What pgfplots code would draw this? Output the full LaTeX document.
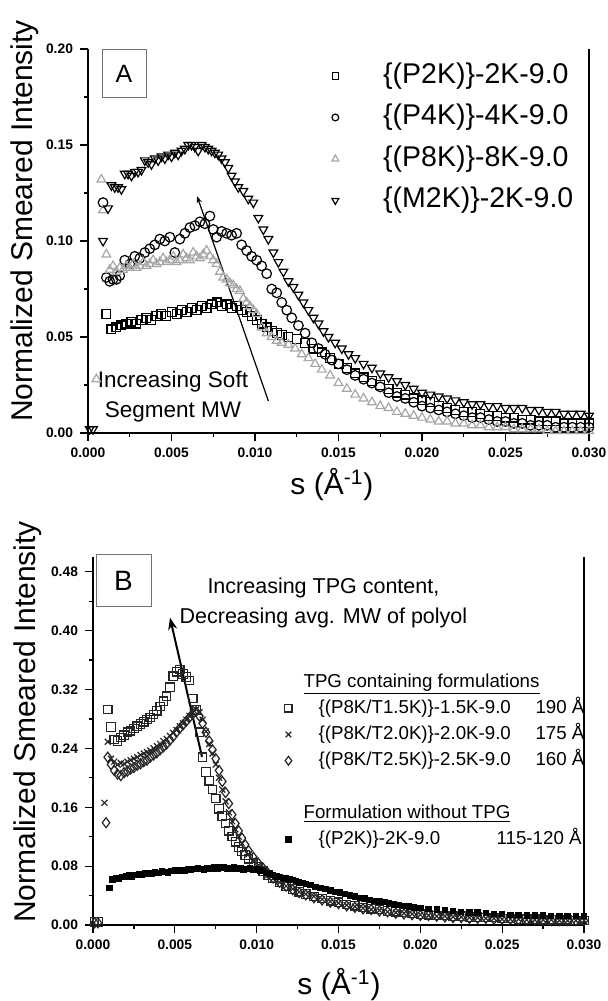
\documentclass[border=0pt]{standalone}
\usepackage{fontspec}
\setmainfont{Liberation Sans}
\usepackage{pgfplots}
\pgfplotsset{compat=1.18}
\usetikzlibrary{arrows.meta}

\pgfplotsset{
  legmark/.style={legend image code/.code={\draw[##1,mark size=#1] plot coordinates {(0pt,0pt)};}},
  panel/.style={
    scale only axis, clip=false, enlargelimits=false,
    axis x line=bottom, axis y line=box,
    every non boxed x axis/.style={},
    axis line style={-, line width=0.75pt},
    x axis line style={-}, y axis line style={-},
    xmin=0, xmax=0.03,
    xtick={0,0.005,0.01,0.015,0.02,0.025,0.03},
    minor x tick num=1, minor y tick num=1,
    ytick pos=left, xtick pos=bottom,
    tick align=outside,
    major tick length=4pt, minor tick length=2pt,
    tick style={black, line width=0.6pt},
    scaled ticks=false,
    tick label style={font=\fontsize{6.9}{7}\selectfont\bfseries},
    /pgf/number format/assume math mode=true,
    xticklabel style={/pgf/number format/.cd, fixed, fixed zerofill, precision=3},
    yticklabel style={/pgf/number format/.cd, fixed, fixed zerofill, precision=2},
    xlabel={s (Å\textsuperscript{-1})},
    ylabel={Normalized Smeared Intensity},
    legend cell align=left,
  },
  mk/.style={only marks, line width=0.6pt},
}

\begin{document}
\begin{tikzpicture}
\useasboundingbox (0,0) rectangle (304pt,-500.5pt);

% ---------- panel A ----------
\begin{axis}[panel,
  at={(44pt,-216.5pt)}, anchor=south west,
  width=250.5pt, height=192pt,
  ymin=0, ymax=0.2, ytick={0,0.05,0.1,0.15,0.2},
  every axis y label/.style={at={(axis description cs:-0.1257,0.552)}, rotate=90, anchor=center, font=\fontsize{15}{15}\selectfont},
  every axis x label/.style={at={(axis description cs:0.487,-0.135)}, anchor=center, font=\fontsize{15}{15}\selectfont},
  legend style={at={(0.486,0.966)}, anchor=north west, draw=none, fill=none,
    inner sep=0pt, row sep=7.25pt, column sep=22.2pt,
    font=\fontsize{14.25}{14.25}\selectfont,
    nodes={inner sep=0pt, text height=10.5pt, text depth=3pt}},
]
\addplot[mk, black, mark=square, mark size=2.2pt, legmark=1.6pt] coordinates {
(0.0011,0.062) (0.0014,0.054) (0.0017,0.055) (0.0020,0.056) (0.0023,0.057) (0.0026,0.058)
(0.0029,0.057) (0.0032,0.059) (0.0035,0.060) (0.0038,0.059) (0.0041,0.061) (0.0044,0.062)
(0.0047,0.061) (0.0050,0.063) (0.0053,0.062) (0.0056,0.064) (0.0059,0.063) (0.0062,0.065)
(0.0065,0.064) (0.0068,0.066) (0.0071,0.065) (0.0074,0.067) (0.0077,0.068) (0.0080,0.066)
(0.0083,0.067) (0.0086,0.065) (0.0089,0.066) (0.0092,0.064) (0.0095,0.063) (0.0098,0.061)
(0.0101,0.059) (0.0104,0.057) (0.0107,0.055) (0.0110,0.053) (0.0113,0.052) (0.0116,0.051)
(0.0120,0.050) (0.0125,0.049) (0.0130,0.047) (0.0135,0.044) (0.0140,0.042) (0.0145,0.039)
(0.0150,0.036) (0.0155,0.034) (0.0160,0.031) (0.0165,0.029) (0.0170,0.027) (0.0175,0.025)
(0.0180,0.023) (0.0185,0.021) (0.0190,0.020) (0.0195,0.018) (0.0200,0.017) (0.0205,0.016)
(0.0210,0.014) (0.0215,0.013) (0.0220,0.012) (0.0225,0.011) (0.0230,0.011) (0.0235,0.010)
(0.0240,0.009) (0.0245,0.009) (0.0250,0.008) (0.0255,0.008) (0.0260,0.007) (0.0265,0.007)
(0.0270,0.006) (0.0275,0.006) (0.0280,0.006) (0.0285,0.005) (0.0290,0.005) (0.0295,0.005)
(0.0300,0.005)};
\addlegendentry{\{(P2K)\}-2K-9.0}
\addplot[mk, black, mark=o, mark size=2.4pt, legmark=1.7pt] coordinates {
(0.0009,0.120) (0.0011,0.081) (0.0013,0.079) (0.0015,0.080) (0.0017,0.080) (0.0019,0.082)
(0.0022,0.090) (0.0025,0.088) (0.0028,0.092) (0.0031,0.091) (0.0034,0.094) (0.0037,0.096)
(0.0040,0.098) (0.0043,0.101) (0.0046,0.100) (0.0049,0.102) (0.0052,0.094) (0.0055,0.101)
(0.0058,0.104) (0.0061,0.107) (0.0064,0.108) (0.0067,0.110) (0.0070,0.109) (0.0073,0.113)
(0.0075,0.106) (0.0077,0.102) (0.0080,0.105) (0.0083,0.104) (0.0086,0.103) (0.0089,0.104)
(0.0092,0.098) (0.0095,0.095) (0.0098,0.092) (0.0101,0.090) (0.0104,0.087) (0.0107,0.083)
(0.0110,0.075) (0.0113,0.073) (0.0116,0.068) (0.0119,0.064) (0.0122,0.060) (0.0126,0.056)
(0.0130,0.052) (0.0134,0.047) (0.0138,0.044) (0.0142,0.041) (0.0146,0.038) (0.0150,0.036)
(0.0155,0.033) (0.0160,0.030) (0.0165,0.028) (0.0170,0.026) (0.0175,0.024) (0.0180,0.021)
(0.0185,0.019) (0.0190,0.018) (0.0195,0.016) (0.0200,0.014) (0.0205,0.013) (0.0210,0.012)
(0.0215,0.011) (0.0220,0.010) (0.0225,0.009) (0.0230,0.008) (0.0235,0.008) (0.0240,0.007)
(0.0245,0.006) (0.0250,0.006) (0.0255,0.005) (0.0260,0.005) (0.0265,0.004) (0.0270,0.004)
(0.0275,0.004) (0.0280,0.003) (0.0285,0.003) (0.0290,0.003) (0.0295,0.003) (0.0300,0.003)};
\addlegendentry{\{(P4K)\}-4K-9.0}
\addplot[mk, black!35, mark=triangle, mark size=2.5pt, legmark=2pt] coordinates {
(0.0005,0.028) (0.0008,0.132) (0.0009,0.116) (0.0011,0.093) (0.0013,0.085) (0.0015,0.087)
(0.0017,0.084) (0.0019,0.086) (0.0021,0.085) (0.0023,0.087) (0.0025,0.086) (0.0027,0.088)
(0.0029,0.086) (0.0031,0.087) (0.0033,0.089) (0.0035,0.087) (0.0037,0.088) (0.0039,0.090)
(0.0041,0.088) (0.0043,0.089) (0.0045,0.091) (0.0047,0.089) (0.0049,0.090) (0.0051,0.092)
(0.0053,0.089) (0.0055,0.090) (0.0057,0.093) (0.0059,0.091) (0.0061,0.090) (0.0063,0.094)
(0.0065,0.092) (0.0067,0.091) (0.0069,0.093) (0.0071,0.095) (0.0073,0.092) (0.0075,0.090)
(0.0077,0.088) (0.0079,0.084) (0.0081,0.081) (0.0083,0.080) (0.0085,0.078) (0.0087,0.077)
(0.0089,0.075) (0.0091,0.074) (0.0093,0.070) (0.0095,0.068) (0.0097,0.066) (0.0099,0.064)
(0.0101,0.062) (0.0104,0.055) (0.0107,0.052) (0.0110,0.050) (0.0113,0.048) (0.0116,0.047)
(0.0120,0.046) (0.0124,0.044) (0.0128,0.041) (0.0132,0.039) (0.0136,0.036) (0.0140,0.033)
(0.0145,0.030) (0.0150,0.026) (0.0155,0.023) (0.0160,0.020) (0.0165,0.018) (0.0170,0.016)
(0.0175,0.014) (0.0180,0.013) (0.0185,0.011) (0.0190,0.010) (0.0195,0.009) (0.0200,0.008)
(0.0205,0.007) (0.0210,0.006) (0.0215,0.006) (0.0220,0.005) (0.0225,0.005) (0.0230,0.004)
(0.0235,0.004) (0.0240,0.003) (0.0245,0.003) (0.0250,0.003) (0.0255,0.002) (0.0260,0.002)
(0.0265,0.002) (0.0270,0.002) (0.0275,0.001) (0.0280,0.001) (0.0285,0.001) (0.0290,0.001)
(0.0295,0.001) (0.0300,0.001)};
\addlegendentry{\{(P8K)\}-8K-9.0}
\addplot[mk, black, mark=triangle, mark options={rotate=180}, mark size=2.5pt, legmark=2pt] coordinates {
(0.0001,0.002) (0.0003,0.002) (0.0009,0.100) (0.0012,0.117) (0.0014,0.129) (0.0016,0.128)
(0.0018,0.128) (0.0020,0.127) (0.0022,0.135) (0.0024,0.135) (0.0026,0.134) (0.0028,0.136)
(0.0030,0.136) (0.0032,0.137) (0.0034,0.142) (0.0036,0.141) (0.0038,0.140) (0.0040,0.143)
(0.0042,0.142) (0.0044,0.144) (0.0046,0.143) (0.0048,0.145) (0.0050,0.144) (0.0052,0.146)
(0.0054,0.145) (0.0056,0.147) (0.0058,0.148) (0.0060,0.150) (0.0062,0.150) (0.0064,0.149)
(0.0066,0.147) (0.0068,0.150) (0.0070,0.149) (0.0072,0.148) (0.0074,0.147) (0.0076,0.146)
(0.0078,0.145) (0.0080,0.143) (0.0082,0.141) (0.0084,0.138) (0.0086,0.134) (0.0088,0.131)
(0.0090,0.128) (0.0093,0.126) (0.0096,0.122) (0.0099,0.120) (0.0102,0.112) (0.0105,0.106)
(0.0108,0.101) (0.0111,0.094) (0.0114,0.089) (0.0117,0.084) (0.0120,0.079) (0.0123,0.076)
(0.0126,0.072) (0.0129,0.068) (0.0132,0.064) (0.0135,0.060) (0.0138,0.057) (0.0141,0.053)
(0.0144,0.050) (0.0148,0.047) (0.0152,0.044) (0.0156,0.041) (0.0160,0.039) (0.0165,0.036)
(0.0170,0.034) (0.0175,0.031) (0.0180,0.029) (0.0185,0.027) (0.0190,0.025) (0.0195,0.023)
(0.0200,0.021) (0.0205,0.020) (0.0210,0.019) (0.0215,0.018) (0.0220,0.017) (0.0225,0.016)
(0.0230,0.015) (0.0235,0.015) (0.0240,0.014) (0.0245,0.014) (0.0250,0.013) (0.0255,0.013)
(0.0260,0.013) (0.0265,0.012) (0.0270,0.012) (0.0275,0.011) (0.0280,0.011) (0.0285,0.010)
(0.0290,0.010) (0.0295,0.010) (0.0300,0.009)};
\addlegendentry{\{(M2K)\}-2K-9.0}
\node[draw=black!55, line width=0.5pt, minimum width=22pt, minimum height=24pt, inner sep=0pt,
  font=\fontsize{12.5}{12.5}\selectfont] at (axis cs:0.00216,0.187) {A};
\node[align=center, font=\fontsize{11.25}{15}\selectfont] at (axis cs:0.00509,0.0188) {Increasing Soft\\Segment MW};
\draw[-{Stealth[length=3.5pt,width=2.6pt]}, line width=0.6pt] (axis cs:0.0108,0.0167) -- (axis cs:0.00653,0.1234);
\end{axis}

% ---------- panel B ----------
\begin{axis}[panel,
  at={(46.5pt,-462.5pt)}, anchor=south west,
  width=245.5pt, height=184pt,
  ymin=0, ymax=0.5, ytick={0,0.08,0.16,0.24,0.32,0.40,0.48},
  every axis y label/.style={at={(axis description cs:-0.132,0.552)}, rotate=90, anchor=center, font=\fontsize{15}{15}\selectfont},
  every axis x label/.style={at={(axis description cs:0.501,-0.163)}, anchor=center, font=\fontsize{15}{15}\selectfont},
  legend style={at={(0.390,0.6856)}, anchor=north west, draw=none, fill=none,
    inner sep=0pt, row sep=4.1pt, column sep=13.25pt,
    font=\fontsize{9.35}{9.35}\selectfont,
    nodes={inner sep=0pt, text height=7pt, text depth=2pt}},
]
\addlegendimage{empty legend}
\addlegendentry{\hspace*{-7.5pt}\underline{TPG containing formulations}}
\addplot[mk, black!85, mark=square, mark size=2.1pt, legmark=1.8pt] coordinates {
(0.0001,0.004) (0.0003,0.004) (0.0009,0.293) (0.0011,0.269) (0.0013,0.252) (0.0015,0.250)
(0.0017,0.255) (0.0019,0.258) (0.0021,0.262) (0.0023,0.264) (0.0025,0.267) (0.0027,0.270)
(0.0029,0.273) (0.0031,0.276) (0.0033,0.279) (0.0035,0.282) (0.0037,0.286) (0.0039,0.291)
(0.0041,0.297) (0.0043,0.304) (0.0045,0.311) (0.0047,0.323) (0.0049,0.338) (0.0051,0.344)
(0.0053,0.347) (0.0055,0.341) (0.0057,0.337) (0.0059,0.332) (0.0061,0.308) (0.0063,0.292)
(0.0065,0.262) (0.0067,0.228) (0.0069,0.208) (0.0071,0.196) (0.0073,0.184) (0.0075,0.172)
(0.0077,0.158) (0.0079,0.148) (0.0081,0.138) (0.0083,0.128) (0.0085,0.120) (0.0087,0.113)
(0.0089,0.106) (0.0091,0.100) (0.0093,0.095) (0.0095,0.090) (0.0098,0.084) (0.0101,0.079)
(0.0104,0.073) (0.0107,0.068) (0.0110,0.063) (0.0114,0.058) (0.0118,0.053) (0.0122,0.049)
(0.0126,0.045) (0.0130,0.042) (0.0135,0.039) (0.0140,0.036) (0.0145,0.033) (0.0150,0.031)
(0.0155,0.028) (0.0160,0.026) (0.0165,0.024) (0.0170,0.022) (0.0175,0.021) (0.0180,0.019)
(0.0185,0.018) (0.0190,0.017) (0.0195,0.016) (0.0200,0.015) (0.0205,0.014) (0.0210,0.013)
(0.0215,0.013) (0.0220,0.012) (0.0225,0.012) (0.0230,0.011) (0.0235,0.011) (0.0240,0.010)
(0.0245,0.010) (0.0250,0.009) (0.0255,0.009) (0.0260,0.008) (0.0265,0.008) (0.0270,0.008)
(0.0275,0.007) (0.0280,0.007) (0.0285,0.007) (0.0290,0.007) (0.0295,0.006) (0.0300,0.006)};
\addlegendentry{\makebox[108.5pt][l]{\{(P8K/T1.5K)\}-1.5K-9.0}190 Å}
\addplot[mk, black!85, mark=x, mark size=2.1pt, legmark=2pt] coordinates {
(0.0007,0.166) (0.0009,0.249) (0.0011,0.226) (0.0013,0.222) (0.0015,0.218) (0.0017,0.220)
(0.0019,0.219) (0.0021,0.222) (0.0023,0.224) (0.0025,0.226) (0.0027,0.228) (0.0029,0.231)
(0.0031,0.233) (0.0033,0.235) (0.0035,0.237) (0.0037,0.240) (0.0039,0.243) (0.0041,0.246)
(0.0043,0.250) (0.0045,0.253) (0.0047,0.257) (0.0049,0.261) (0.0051,0.265) (0.0053,0.270)
(0.0055,0.274) (0.0057,0.279) (0.0059,0.284) (0.0061,0.289) (0.0063,0.293) (0.0065,0.289)
(0.0067,0.279) (0.0069,0.263) (0.0071,0.246) (0.0073,0.233) (0.0075,0.218) (0.0077,0.200)
(0.0079,0.184) (0.0081,0.168) (0.0083,0.153) (0.0085,0.141) (0.0087,0.130) (0.0089,0.120)
(0.0091,0.111) (0.0093,0.103) (0.0095,0.096) (0.0098,0.088) (0.0101,0.081) (0.0104,0.074)
(0.0107,0.068) (0.0110,0.063) (0.0114,0.058) (0.0118,0.053) (0.0122,0.049) (0.0126,0.045)
(0.0130,0.042) (0.0135,0.039) (0.0140,0.035) (0.0145,0.032) (0.0150,0.030) (0.0155,0.027)
(0.0160,0.025) (0.0165,0.023) (0.0170,0.021) (0.0175,0.020) (0.0180,0.018) (0.0185,0.017)
(0.0190,0.016) (0.0195,0.015) (0.0200,0.014) (0.0205,0.013) (0.0210,0.012) (0.0215,0.012)
(0.0220,0.011) (0.0225,0.011) (0.0230,0.010) (0.0235,0.010) (0.0240,0.009) (0.0245,0.009)
(0.0250,0.008) (0.0255,0.008) (0.0260,0.008) (0.0265,0.007) (0.0270,0.007) (0.0275,0.007)
(0.0280,0.007) (0.0285,0.006) (0.0290,0.006) (0.0295,0.006) (0.0300,0.006)};
\addlegendentry{\makebox[108.5pt][l]{\{(P8K/T2.0K)\}-2.0K-9.0}175 Å}
\addplot[mk, black!85, mark=diamond, mark size=2.5pt, legmark=2.2pt] coordinates {
(0.0001,0.003) (0.0003,0.003) (0.0008,0.139) (0.0009,0.228) (0.0011,0.218) (0.0013,0.210)
(0.0015,0.205) (0.0017,0.203) (0.0019,0.207) (0.0021,0.209) (0.0023,0.212) (0.0025,0.214)
(0.0027,0.217) (0.0029,0.219) (0.0031,0.222) (0.0033,0.224) (0.0035,0.228) (0.0037,0.231)
(0.0039,0.234) (0.0041,0.238) (0.0043,0.242) (0.0045,0.246) (0.0047,0.251) (0.0049,0.256)
(0.0051,0.262) (0.0053,0.267) (0.0055,0.272) (0.0057,0.277) (0.0059,0.282) (0.0061,0.287)
(0.0063,0.290) (0.0065,0.284) (0.0067,0.274) (0.0069,0.262) (0.0071,0.250) (0.0073,0.238)
(0.0075,0.226) (0.0077,0.210) (0.0079,0.195) (0.0081,0.180) (0.0083,0.165) (0.0085,0.150)
(0.0087,0.138) (0.0089,0.128) (0.0091,0.118) (0.0093,0.109) (0.0095,0.101) (0.0098,0.092)
(0.0101,0.084) (0.0104,0.077) (0.0107,0.070) (0.0110,0.064) (0.0114,0.058) (0.0118,0.053)
(0.0122,0.048) (0.0126,0.044) (0.0130,0.041) (0.0135,0.037) (0.0140,0.034) (0.0145,0.031)
(0.0150,0.029) (0.0155,0.026) (0.0160,0.024) (0.0165,0.022) (0.0170,0.021) (0.0175,0.019)
(0.0180,0.018) (0.0185,0.016) (0.0190,0.015) (0.0195,0.014) (0.0200,0.013) (0.0205,0.013)
(0.0210,0.012) (0.0215,0.011) (0.0220,0.010) (0.0225,0.010) (0.0230,0.009) (0.0235,0.009)
(0.0240,0.009) (0.0245,0.008) (0.0250,0.008) (0.0255,0.008) (0.0260,0.007) (0.0265,0.007)
(0.0270,0.007) (0.0275,0.006) (0.0280,0.006) (0.0285,0.006) (0.0290,0.006) (0.0295,0.006)
(0.0300,0.006)};
\addlegendentry{\makebox[108.5pt][l]{\{(P8K/T2.5K)\}-2.5K-9.0}160 Å}
\addlegendimage{empty legend}
\addlegendentry{}
\addlegendimage{empty legend}
\addlegendentry{\hspace*{-7.5pt}\underline{Formulation without TPG}}
\addplot[mk, black, mark=square*, mark size=1.3pt, legmark=1.3pt] coordinates {
(0.0010,0.050) (0.0012,0.062) (0.0014,0.064) (0.0016,0.063) (0.0018,0.065) (0.0020,0.066)
(0.0022,0.067) (0.0024,0.066) (0.0026,0.068) (0.0028,0.069) (0.0030,0.068) (0.0032,0.070)
(0.0034,0.071) (0.0036,0.070) (0.0038,0.072) (0.0040,0.071) (0.0042,0.073) (0.0044,0.072)
(0.0046,0.071) (0.0048,0.073) (0.0050,0.074) (0.0052,0.073) (0.0054,0.075) (0.0056,0.074)
(0.0058,0.076) (0.0060,0.075) (0.0062,0.076) (0.0064,0.077) (0.0066,0.076) (0.0068,0.075)
(0.0070,0.077) (0.0072,0.076) (0.0074,0.078) (0.0076,0.077) (0.0078,0.079) (0.0080,0.078)
(0.0082,0.076) (0.0084,0.077) (0.0086,0.078) (0.0088,0.076) (0.0090,0.077) (0.0092,0.075)
(0.0094,0.076) (0.0096,0.077) (0.0098,0.075) (0.0100,0.076) (0.0102,0.074) (0.0104,0.073)
(0.0106,0.071) (0.0108,0.070) (0.0110,0.068) (0.0112,0.066) (0.0114,0.065) (0.0116,0.064)
(0.0118,0.063) (0.0120,0.062) (0.0122,0.061) (0.0124,0.060) (0.0126,0.058) (0.0128,0.057)
(0.0130,0.056) (0.0133,0.054) (0.0136,0.052) (0.0139,0.050) (0.0142,0.049) (0.0145,0.047)
(0.0148,0.045) (0.0151,0.044) (0.0154,0.042) (0.0157,0.040) (0.0160,0.039) (0.0163,0.037)
(0.0166,0.036) (0.0169,0.034) (0.0172,0.033) (0.0175,0.032) (0.0178,0.031) (0.0181,0.029)
(0.0184,0.028) (0.0187,0.027) (0.0190,0.026) (0.0193,0.025) (0.0196,0.024) (0.0200,0.023)
(0.0205,0.022) (0.0210,0.021) (0.0215,0.020) (0.0220,0.019) (0.0225,0.018) (0.0230,0.017)
(0.0235,0.017) (0.0240,0.016) (0.0245,0.015) (0.0250,0.015) (0.0255,0.014) (0.0260,0.014)
(0.0265,0.013) (0.0270,0.013) (0.0275,0.013) (0.0280,0.012) (0.0285,0.012) (0.0290,0.012)
(0.0295,0.012) (0.0300,0.012)};
\addlegendentry{\makebox[131.5pt][l]{\{(P2K)\}-2K-9.0\hfill 115-120 Å}}
\node[draw=black!55, line width=0.5pt, minimum width=27.5pt, minimum height=26pt, inner sep=0pt,
  font=\fontsize{14}{14}\selectfont] at (axis cs:0.001864,0.4678) {B};
\node[align=center, font=\fontsize{10.75}{15}\selectfont] at (axis cs:0.01408,0.4378) {Increasing TPG content,\\Decreasing avg. MW of polyol};
\draw[-{Stealth[length=6pt,width=4.5pt]}, line width=1pt] (axis cs:0.00666,0.2284) -- (axis cs:0.004705,0.4175);
\end{axis}
\end{tikzpicture}
\end{document}
